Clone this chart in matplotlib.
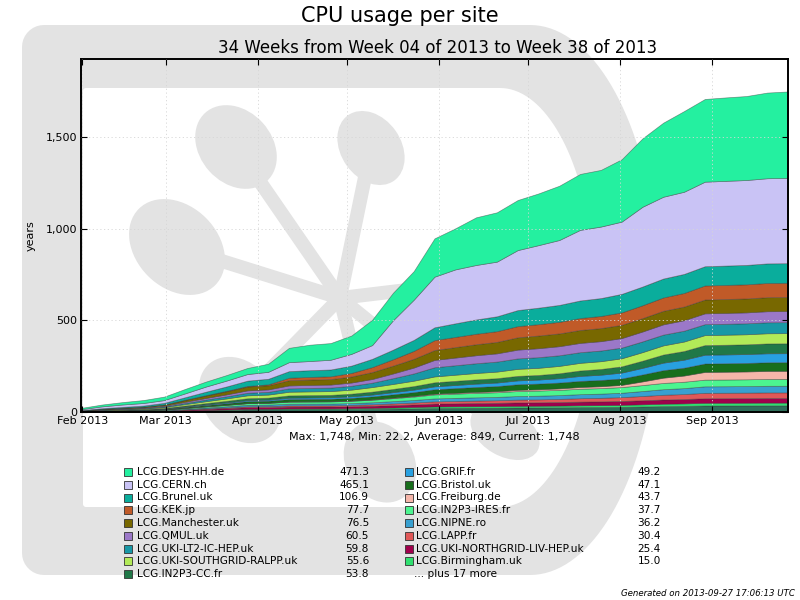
import numpy as np
import pandas as pd
import matplotlib
matplotlib.use("Agg")
import matplotlib.pyplot as plt
import matplotlib.dates as mdates
from matplotlib.patches import Ellipse, Rectangle, PathPatch
from matplotlib.path import Path
from matplotlib.ticker import FuncFormatter, FixedLocator

# ---------------- data (cumulative CPU years per site) ----------------
weeks = pd.date_range("2013-01-31 12:00", periods=35, freq="7D")

desy = [7, 10, 13, 16, 19, 24, 27, 30, 33, 44, 78, 89, 91, 100, 138, 150, 156, 209,
        224, 260, 269, 273, 282, 296, 305, 309, 340, 373, 404, 440, 451, 455, 458, 467, 471.3]
cern = [5, 10, 13, 14, 15, 21, 28, 32, 36, 38, 49, 50, 53, 64, 75, 160, 219, 276,
        294, 297, 298, 327, 341, 354, 385, 390, 394, 435, 446, 448, 461, 462, 463, 464.5, 465.1]
brunel = [1.5, 3.4, 4.7, 6.0, 8.7, 13.8, 18.9, 23.7, 29, 30.3, 36.0, 36.7, 37.2, 40.0, 45, 52.3, 60, 70,
          74.1, 78.0, 81.2, 87.6, 90, 92.2, 95.7, 97.6, 101, 102.1, 103.2, 103.9, 105, 105.5, 105.8, 106.8, 106.9]
kek = [0.1, 0.2, 0.3, 0.35, 0.5, 1.1, 1.8, 2.4, 3, 5.0, 13.5, 14.5, 15.3, 19.5, 27, 34.8, 43.2, 54,
       55.6, 57.2, 58.5, 61.0, 62, 63.2, 65.1, 66.2, 68, 70.3, 72.7, 74.1, 76.5, 76.8, 77.0, 77.6, 77.7]
manchester = [1.2, 2.5, 3.4, 4.2, 6, 9.8, 13.5, 17.1, 21, 22.4, 28.4, 29.1, 29.7, 32.7, 38, 42.6, 47.6, 54,
              57.1, 60.0, 62.4, 67.2, 69, 69.6, 70.6, 71.1, 72, 72.9, 73.9, 74.5, 75.5, 75.8, 76.0, 76.4, 76.5]
qmul = [0.8, 1.7, 2.2, 2.8, 4, 6.3, 8.5, 10.7, 13, 13.6, 16.1, 16.4, 16.6, 17.8, 20, 25.8, 32, 40,
        41.9, 43.6, 45.0, 47.9, 49, 49.6, 50.6, 51.1, 52, 53.9, 55.9, 57.1, 59, 59.3, 59.6, 60.4, 60.5]
lt2 = [0.8, 1.7, 2.2, 2.8, 4, 6.5, 9, 11.4, 14, 14.8, 18.4, 18.8, 19.1, 20.9, 24, 31.5, 39.6, 50,
       51.6, 53.2, 54.5, 57.0, 58, 58.0, 58.1, 58.1, 58.2, 58.5, 58.9, 59.1, 59.5, 59.6, 59.7, 59.8, 59.8]
ralpp = [1.0, 2.1, 2.8, 3.5, 5, 7.8, 10.5, 13.1, 16, 16.8, 19.9, 20.3, 20.6, 22.2, 25, 27.0, 29.2, 32,
         33.4, 34.8, 35.9, 38.2, 39, 40.0, 41.6, 42.5, 44, 46.8, 49.8, 51.6, 54.5, 54.7, 54.9, 55.5, 55.6]
in2p3cc = [0.6, 1.2, 1.7, 2.1, 3, 4.8, 6.5, 8.2, 10, 10.5, 12.6, 12.9, 13.1, 14.1, 16, 17.7, 19.6, 22,
           22.6, 23.2, 23.7, 24.6, 25, 26.8, 29.7, 31.2, 34, 38.9, 44.3, 47.4, 52.5, 52.8, 53.0, 53.7, 53.8]
grif = [0.4, 0.8, 1.1, 1.4, 2, 3, 4, 5, 6, 6.3, 7.7, 7.9, 8.1, 8.8, 10, 11.7, 13.6, 16,
        17.2, 18.4, 19.4, 21.3, 22, 24, 27.2, 28.9, 32, 36.2, 40.9, 43.6, 48, 48.2, 48.5, 49.1, 49.2]
bristol = [0.6, 1.2, 1.7, 2.1, 3, 4.8, 6.5, 8.2, 10, 10.5, 12.6, 12.9, 13.1, 14.1, 16, 18.3, 20.8, 24,
           25.4, 26.8, 27.9, 30.2, 31, 31.8, 33.1, 33.8, 35, 37.9, 41.1, 42.9, 46, 46.2, 46.5, 47.0, 47.1]
freiburg = [0.1, 0.15, 0.2, 0.25, 0.3, 0.5, 0.65, 0.8, 1, 1.1, 1.4, 1.5, 1.5, 1.7, 2, 2.6, 3.2, 4,
            4.6, 5.2, 5.7, 6.6, 7, 8, 9.6, 10.5, 12, 20, 28.7, 33.7, 42, 42.3, 42.7, 43.6, 43.7]
ires = [0.6, 1.2, 1.7, 2.1, 3, 4.5, 6, 7.4, 9, 9.4, 11.2, 11.4, 11.6, 12.4, 14, 16.3, 18.8, 22,
        23.2, 24.4, 25.4, 27.3, 28, 28.6, 29.6, 30.1, 31, 32.5, 34.1, 35, 36.5, 36.7, 37.0, 37.6, 37.7]
nipne = [0.4, 0.8, 1.1, 1.4, 2, 3.5, 5, 6.4, 8, 8.3, 9.3, 9.4, 9.5, 10.1, 11, 12.5, 14, 16,
         16.8, 17.6, 18.2, 19.5, 20, 20.8, 22.1, 22.8, 24, 27, 30.4, 32.3, 35.5, 35.6, 35.8, 36.1, 36.2]
lapp = [0.3, 0.6, 0.8, 1.1, 1.5, 2.4, 3.3, 4.1, 5, 5.3, 6.3, 6.4, 6.5, 7.1, 8, 9.2, 10.4, 12,
        12.8, 13.6, 14.2, 15.5, 16, 17, 18.6, 19.5, 21, 23.3, 25.7, 27.1, 29.5, 29.7, 29.9, 30.3, 30.4]
liv = [0.6, 1.2, 1.7, 2.1, 3, 4.5, 6, 7.4, 9, 9.3, 10.3, 10.4, 10.5, 11.1, 12, 13.2, 14.4, 16,
       16.6, 17.2, 17.7, 18.6, 19, 19.4, 20, 20.4, 21, 22.1, 23.2, 23.9, 25, 25.1, 25.2, 25.4, 25.4]
birmingham = [0.2, 0.4, 0.6, 0.7, 1, 1.5, 2, 2.5, 3, 3.2, 3.9, 4, 4, 4.4, 5, 5.9, 6.8, 8,
              8.2, 8.4, 8.6, 8.9, 9, 9.4, 10, 10.4, 11, 11.9, 12.9, 13.5, 14.5, 14.6, 14.7, 15.0, 15.0]
others = [1.0, 1.5, 1.9, 2.3, 3, 5.8, 8.5, 11.1, 14, 14.3, 15.3, 15.4, 15.5, 16.1, 17, 18.5, 20, 22,
          22.6, 23.2, 23.7, 24.6, 25, 25.6, 26.6, 27.1, 28, 30, 32.2, 33.4, 35.5, 35.6, 35.8, 36.1, 36.1]

# legend order (top of stack first)
site_names = ["LCG.DESY-HH.de", "LCG.CERN.ch", "LCG.Brunel.uk", "LCG.KEK.jp",
              "LCG.Manchester.uk", "LCG.QMUL.uk", "LCG.UKI-LT2-IC-HEP.uk",
              "LCG.UKI-SOUTHGRID-RALPP.uk", "LCG.IN2P3-CC.fr", "LCG.GRIF.fr",
              "LCG.Bristol.uk", "LCG.Freiburg.de", "LCG.IN2P3-IRES.fr", "LCG.NIPNE.ro",
              "LCG.LAPP.fr", "LCG.UKI-NORTHGRID-LIV-HEP.uk", "LCG.Birmingham.uk"]
site_values = [desy, cern, brunel, kek, manchester, qmul, lt2, ralpp, in2p3cc, grif,
               bristol, freiburg, ires, nipne, lapp, liv, birmingham]
site_colors = ["#24f0a0", "#c9c3f5", "#0aad9c", "#c05a28", "#786800", "#9b78c8",
               "#1898a6", "#b2ea58", "#207848", "#28a0e0", "#186e1c", "#f5b6aa",
               "#4cf590", "#38a0d0", "#e05858", "#a0004c", "#30e070"]
others_label = "... plus 17 more"
others_color = "#2f6f5a"

stats_text = "Max: 1,748, Min: 22.2, Average: 849, Current: 1,748"
title_text = "CPU usage per site"
subtitle_text = "34 Weeks from Week 04 of 2013 to Week 38 of 2013"
generated_text = "Generated on 2013-09-27 17:06:13 UTC"

# ---------------- figure ----------------
plt.rcParams["font.family"] = ["DejaVu Sans"]
fig = plt.figure(figsize=(8, 6), dpi=100)
W, H = 800.0, 600.0

# background watermark layer in pixel coordinates
bg = fig.add_axes([0, 0, 1, 1], zorder=0)
bg.set_xlim(0, W)
bg.set_ylim(H, 0)
bg.axis("off")
wm = "#e3e3e3"

def d_outline(x0, y0, xr, cy, a, b, ybot, r):
    pts = [(x0 + r, y0), (xr, y0)]
    th = np.linspace(-np.pi / 2, np.pi / 2, 80)
    pts += [(xr + a * np.cos(t), cy + b * np.sin(t)) for t in th]
    pts += [(x0 + r, ybot)]
    th2 = np.linspace(np.pi / 2, np.pi, 10)
    pts += [(x0 + r + r * np.cos(t), ybot - r + r * np.sin(t)) for t in th2]
    th3 = np.linspace(np.pi, 1.5 * np.pi, 10)
    pts += [(x0 + r + r * np.cos(t), y0 + r + r * np.sin(t)) for t in th3]
    return np.array(pts)

outer = d_outline(22, 25, 530, 300, 130, 275, 575, 22)
inner = d_outline(83, 88, 500, 297.5, 95, 209.5, 507, 3)[::-1]
verts = np.vstack([outer, outer[:1], inner, inner[:1]])
codes = ([Path.MOVETO] + [Path.LINETO] * (len(outer) - 1) + [Path.CLOSEPOLY] +
         [Path.MOVETO] + [Path.LINETO] * (len(inner) - 1) + [Path.CLOSEPOLY])
bg.add_patch(PathPatch(Path(verts, codes), facecolor=wm, edgecolor="none"))

hub = (340, 298)
blobs = [((236, 147), 92, 72, 48), ((177, 247), 108, 82, 45), ((371, 148), 80, 60, 55),
         ((240, 400), 95, 72, 50), ((380, 462), 85, 68, 60), ((505, 432), 75, 48, 30)]
for (cx, cy), w, h, ang in blobs:
    bg.add_patch(Ellipse((cx, cy), w, h, angle=ang, facecolor=wm, edgecolor="none"))
    bg.plot([hub[0], cx], [hub[1], cy], color=wm, lw=10, solid_capstyle="butt")
bg.plot([hub[0], 440], [hub[1], 286], color=wm, lw=10, solid_capstyle="butt")

# ---------------- main axes ----------------
ax = fig.add_axes([81 / W, 1 - 412 / H, (788 - 81) / W, (412 - 59) / H], zorder=1)
ax.set_facecolor("none")

stack_series = [others] + site_values[::-1]
stack_colors = [others_color] + site_colors[::-1]
ax.stackplot(weeks, *stack_series, colors=stack_colors,
             edgecolor=(0.2, 0.2, 0.2, 0.5), linewidth=0.5)

ax.set_xlim(weeks[0], weeks[-1])
ax.set_ylim(0, 1925)
ax.yaxis.set_major_locator(FixedLocator([0, 500, 1000, 1500]))
ax.yaxis.set_major_formatter(FuncFormatter(lambda v, p: f"{v:,.0f}"))
ax.xaxis.set_major_locator(mdates.MonthLocator())
ax.xaxis.set_major_formatter(mdates.DateFormatter("%b %Y"))
ax.tick_params(direction="in", length=4, width=0.8, top=True, right=True,
               labelsize=8, pad=3)
ax.grid(True, color="#d6d6d6", linestyle=(0, (1.5, 3)), linewidth=0.6)
ax.set_axisbelow(False)
for s in ax.spines.values():
    s.set_linewidth(1.4)
ax.set_ylabel("years", fontsize=8, labelpad=7)

# titles
fig.text(0.5, 1 - 16 / H, title_text, ha="center", va="center", fontsize=15)
fig.text(437.5 / W, 1 - 48 / H, subtitle_text, ha="center", va="center", fontsize=12)
fig.text(434.5 / W, 1 - 437 / H, stats_text, ha="center", va="center", fontsize=8)
fig.text(795 / W, 1 - 593 / H, generated_text, ha="right", va="center",
         fontsize=6.2, style="italic")

# ---------------- legend (two columns) ----------------
row0, dy = 472, 12.75
cols = [(124, 137, 369), (405, 416, 661)]
entries = [(n, c, f"{v[-1]:.1f}") for n, c, v in zip(site_names, site_colors, site_values)]
for i, (name, col, val) in enumerate(entries):
    c = cols[i // 9]
    y = row0 + (i % 9) * dy
    bg.add_patch(Rectangle((c[0], y - 4), 8, 8, facecolor=col, edgecolor="#333333", lw=0.6))
    bg.text(c[1], y, name, ha="left", va="center", fontsize=7.6)
    bg.text(c[2], y, val, ha="right", va="center", fontsize=7.6)
i = len(entries)
bg.text(cols[1][1] - 2, row0 + (i % 9) * dy, others_label, ha="left", va="center", fontsize=7.6)

fig.savefig("out.png", dpi=100)
